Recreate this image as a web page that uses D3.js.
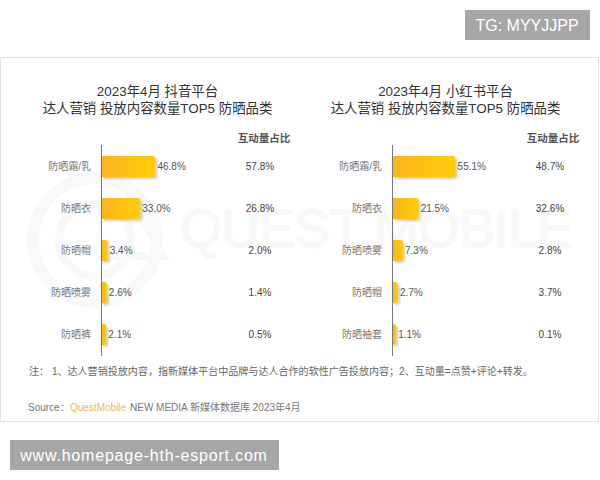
<!DOCTYPE html>
<html>
<head>
<meta charset="utf-8">
<script src="https://cdn.jsdelivr.net/npm/d3@7"></script>
<style>
html, body { margin: 0; padding: 0; background: #fff; }
svg { display: block; }
text { font-family: "Liberation Sans", "Noto Sans CJK SC", sans-serif; }
</style>
</head>
<body>
<script>
const douyinTitle = ["2023年4月 抖音平台", "达人营销 投放内容数量TOP5 防晒品类"]
const douyinCats = ["防晒霜/乳", "防晒衣", "防晒帽", "防晒喷雾", "防晒裤"]
const douyinShare = [46.8, 33.0, 3.4, 2.6, 2.1]
const douyinInteract = [57.8, 26.8, 2.0, 1.4, 0.5]

const xhsTitle = ["2023年4月 小红书平台", "达人营销 投放内容数量TOP5 防晒品类"]
const xhsCats = ["防晒霜/乳", "防晒衣", "防晒喷雾", "防晒帽", "防晒袖套"]
const xhsShare = [55.1, 21.5, 7.3, 2.7, 1.1]
const xhsInteract = [48.7, 32.6, 2.8, 3.7, 0.1]

const width = 600
const height = 480

const svg = d3.select("body").append("svg")
    .attr("width", width)
    .attr("height", height)
    .attr("xmlns", "http://www.w3.org/2000/svg")

const defs = svg.append("defs")

const grad = defs.append("linearGradient").attr("id", "barFill")
    .attr("x1", 0).attr("x2", 1).attr("y1", 0).attr("y2", 0)
grad.append("stop").attr("offset", "0%").attr("stop-color", "#fdb420")
grad.append("stop").attr("offset", "100%").attr("stop-color", "#ffcd05")

const shadow = defs.append("filter").attr("id", "barShadow")
    .attr("x", "-30%").attr("y", "-20%").attr("width", "180%").attr("height", "150%")
shadow.append("feDropShadow")
    .attr("dx", 2).attr("dy", 2).attr("stdDeviation", 1.1)
    .attr("flood-color", "#3a3000").attr("flood-opacity", 0.25)

// card
svg.append("rect")
    .attr("x", 0.5).attr("y", 57.5)
    .attr("width", 598).attr("height", 364)
    .attr("fill", "#fff")
    .attr("stroke", "#e0e0e0")

// watermark
const wm = svg.append("g").attr("fill", "none").attr("stroke", "#f8f8f8")
wm.append("circle").attr("cx", 95).attr("cy", 240).attr("r", 62).attr("stroke-width", 12)
wm.append("circle").attr("cx", 95).attr("cy", 240).attr("r", 36).attr("stroke-width", 8)
wm.append("path").attr("stroke-width", 8).attr("d", "M128,190L163,256H100")
svg.append("text")
    .attr("x", 180).attr("y", 247)
    .attr("font-size", 54)
    .attr("textLength", 393)
    .attr("fill", "#f8f8f8")
    .attr("stroke", "#f8f8f8")
    .attr("stroke-width", 2)
    .text("QUEST MOBILE")

function panel(opts) {
    const g = svg.append("g")
    const y = d3.scaleBand().domain(opts.cats).range([145.5, 355.5]).paddingInner(0.5).paddingOuter(0.25)
    // the bars in the picture start with a small stub at zero
    const x = d3.scaleLinear().domain([0, 50]).range([opts.axisX + 2.5, opts.axisX + 57.5])

    g.selectAll(".title").data(opts.title).join("text")
        .attr("class", "title")
        .attr("x", opts.titleX)
        .attr("y", (d, i) => 95.5 + i * 17)
        .attr("text-anchor", "middle")
        .attr("font-size", 13.4)
        .attr("fill", "#333")
        .text(d => d)

    g.append("text")
        .attr("x", opts.headX).attr("y", 142)
        .attr("text-anchor", "middle")
        .attr("font-size", 10.5)
        .attr("font-weight", "bold")
        .attr("fill", "#555")
        .text("互动量占比")

    g.selectAll(".bar").data(opts.share).join("path")
        .attr("class", "bar")
        .attr("transform", `translate(${opts.axisX},0)`)
        .attr("fill", "url(#barFill)")
        .attr("filter", "url(#barShadow)")
        .attr("d", (d, i) => {
            const w = x(d) - opts.axisX, t = y(opts.cats[i]), b = y.bandwidth(), r = Math.min(3, w)
            return `M0,${t}H${w - r}Q${w},${t} ${w},${t + r}V${t + b - r}Q${w},${t + b} ${w - r},${t + b}H0Z`
        })

    g.append("line")
        .attr("x1", opts.axisX).attr("x2", opts.axisX)
        .attr("y1", 145).attr("y2", 356)
        .attr("stroke", "#777").attr("stroke-width", 1)

    g.selectAll(".cat").data(opts.cats).join("text")
        .attr("class", "cat")
        .attr("x", opts.axisX - 10.5)
        .attr("y", d => y(d) + y.bandwidth() / 2 + 3.2)
        .attr("text-anchor", "end")
        .attr("font-size", 10)
        .attr("fill", "#777")
        .text(d => d)

    g.selectAll(".val").data(opts.share).join("text")
        .attr("class", "val")
        .attr("x", d => x(d) + 2)
        .attr("y", (d, i) => y(opts.cats[i]) + y.bandwidth() / 2 + 3.2)
        .attr("font-size", 10)
        .attr("fill", "#555")
        .text(d => d.toFixed(1) + "%")

    g.selectAll(".inter").data(opts.interact).join("text")
        .attr("class", "inter")
        .attr("x", opts.interactX)
        .attr("y", (d, i) => y(opts.cats[i]) + y.bandwidth() / 2 + 3.2)
        .attr("text-anchor", "middle")
        .attr("font-size", 10)
        .attr("fill", "#444")
        .text(d => d.toFixed(1) + "%")
}

panel({ title: douyinTitle, cats: douyinCats, share: douyinShare, interact: douyinInteract,
    axisX: 101.5, titleX: 157.5, headX: 264, interactX: 260 })
panel({ title: xhsTitle, cats: xhsCats, share: xhsShare, interact: xhsInteract,
    axisX: 392.5, titleX: 445.5, headX: 553, interactX: 550 })

// note and source
svg.append("text")
    .attr("x", 29).attr("y", 375)
    .attr("font-size", 10.05)
    .attr("fill", "#666")
    .text("注： 1、达人营销投放内容，指新媒体平台中品牌与达人合作的软性广告投放内容；2、互动量=点赞+评论+转发。")

const src = svg.append("text")
    .attr("x", 28).attr("y", 411)
    .attr("font-size", 10)
    .attr("fill", "#777")
src.append("tspan").text("Source：")
src.append("tspan").attr("x", 70).attr("fill", "#f3b35a").text("QuestMobile")
src.append("tspan").attr("x", 130).text("NEW MEDIA 新媒体数据库 2023年4月")

// overlay labels
svg.append("rect").attr("x", 465).attr("y", 10).attr("width", 125).attr("height", 30).attr("fill", "#a6a6a6")
svg.append("text").attr("x", 527).attr("y", 31)
    .attr("text-anchor", "middle").attr("font-size", 16).attr("fill", "#fff")
    .text("TG: MYYJJPP")

svg.append("rect").attr("x", 10).attr("y", 440).attr("width", 269).attr("height", 30).attr("fill", "#a6a6a6")
svg.append("text").attr("x", 144).attr("y", 461)
    .attr("text-anchor", "middle").attr("font-size", 16).attr("letter-spacing", 0.8).attr("fill", "#fff")
    .text("www.homepage-hth-esport.com")
</script>
</body>
</html>
